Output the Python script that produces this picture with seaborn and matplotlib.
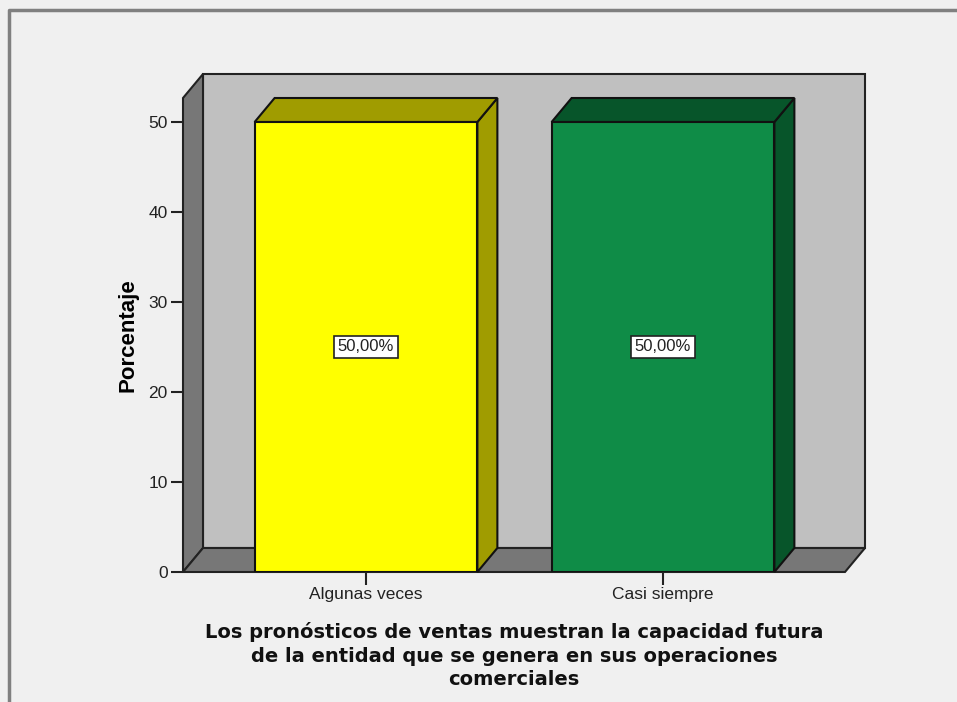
import numpy as np
import pandas as pd
import matplotlib
matplotlib.use('Agg')
import matplotlib.pyplot as plt
from matplotlib.patches import Polygon, Rectangle
from matplotlib.lines import Line2D
import seaborn as sns

# Data
categorias = ['Algunas veces', 'Casi siempre']
porcentajes = [50.0, 50.0]
etiquetas = ['50,00%', '50,00%']
colores_frente = ['#ffff00', '#0f8c47']
colores_lado = ['#a09c00', '#07552a']

df = pd.DataFrame({'cat': categorias, 'pct': porcentajes})

W, H = 957, 702
fig = plt.figure(figsize=(W / 100, H / 100), dpi=100, facecolor='#f0f0f0')

# axes = front plane of the 3D box (pixel geometry)
left_px, right_px, bottom_px, top_px = 183, 845, 572, 98
ax = fig.add_axes([left_px / W, 1 - bottom_px / H,
                   (right_px - left_px) / W, (bottom_px - top_px) / H])
ax.set_facecolor('none')

px_per_unit = 9.0
px_per_cat = 297.0
xl = -(366 - left_px) / px_per_cat
xr = 1 + (right_px - 663) / px_per_cat
ytop = (bottom_px - top_px) / px_per_unit

# depth of the 3D effect in data units
DX = 20 / px_per_cat
DY = 24 / px_per_unit

# walls
ax.add_patch(Rectangle((xl + DX, DY), xr - xl, ytop, facecolor='#c0c0c0',
                       edgecolor='#222222', lw=1.5, clip_on=False, zorder=0.2))
ax.add_patch(Polygon([(xl, 0), (xl, ytop), (xl + DX, ytop + DY), (xl + DX, DY)],
                     facecolor='#777777', edgecolor='#222222', lw=1.5,
                     clip_on=False, zorder=0.3))
ax.add_patch(Polygon([(xl, 0), (xr, 0), (xr + DX, DY), (xl + DX, DY)],
                     facecolor='#777777', edgecolor='#222222', lw=1.5,
                     clip_on=False, zorder=0.3))

# front faces of the bars
sns.barplot(data=df, x='cat', y='pct', hue='cat', palette=colores_frente,
            width=0.75, edgecolor='#111111', linewidth=1.5, legend=False,
            saturation=1, ax=ax)
ax.set_xlim(xl, xr)
ax.set_ylim(0, ytop)

bar_patches = [p for p in ax.patches if isinstance(p, Rectangle) and p.get_height() > 0
               and p.get_zorder() > 0.5]
for p, lado in zip(bar_patches, colores_lado):
    p.set_zorder(2)
    x0, x1 = p.get_x(), p.get_x() + p.get_width()
    h = p.get_height()
    ax.add_patch(Polygon([(x1, 0), (x1, h), (x1 + DX, h + DY), (x1 + DX, DY)],
                         facecolor=lado, edgecolor='#111111', lw=1.5,
                         clip_on=False, zorder=1))
    ax.add_patch(Polygon([(x0, h), (x1, h), (x1 + DX, h + DY), (x0 + DX, h + DY)],
                         facecolor=lado, edgecolor='#111111', lw=1.5,
                         clip_on=False, zorder=1))

for i, (v, t) in enumerate(zip(porcentajes, etiquetas)):
    ax.text(i, v / 2, t, ha='center', va='center', fontsize=12,
            family='Liberation Sans', color='#222222', zorder=5,
            bbox=dict(boxstyle='square,pad=0.2', facecolor='white',
                      edgecolor='#222222', lw=1.2))

for s in ax.spines.values():
    s.set_visible(False)
ax.set_yticks([0, 10, 20, 30, 40, 50])
ax.tick_params(axis='both', length=9, width=1.5, color='#222222',
               labelsize=12.5, labelcolor='#222222', pad=2)
for lab in ax.get_xticklabels() + ax.get_yticklabels():
    lab.set_family('Liberation Sans')
ax.set_xlabel('')
ax.set_ylabel('')

fig.text(128 / W, 1 - 335 / H, 'Porcentaje', rotation=90, ha='center',
         va='center', fontsize=16, fontweight='bold', family='Liberation Sans')
fig.text(514 / W, 1 - 622 / H,
         'Los pronósticos de ventas muestran la capacidad futura\n'
         'de la entidad que se genera en sus operaciones\ncomerciales',
         ha='center', va='top', fontsize=14, fontweight='bold',
         family='DejaVu Sans', linespacing=1.3, color='#111111')

# outer frame
fig.add_artist(Line2D([9 / W, 9 / W, 1], [0, 1 - 10 / H, 1 - 10 / H],
                      transform=fig.transFigure, color='#808080', lw=2.5))

fig.savefig('out.png', dpi=100, facecolor=fig.get_facecolor())
